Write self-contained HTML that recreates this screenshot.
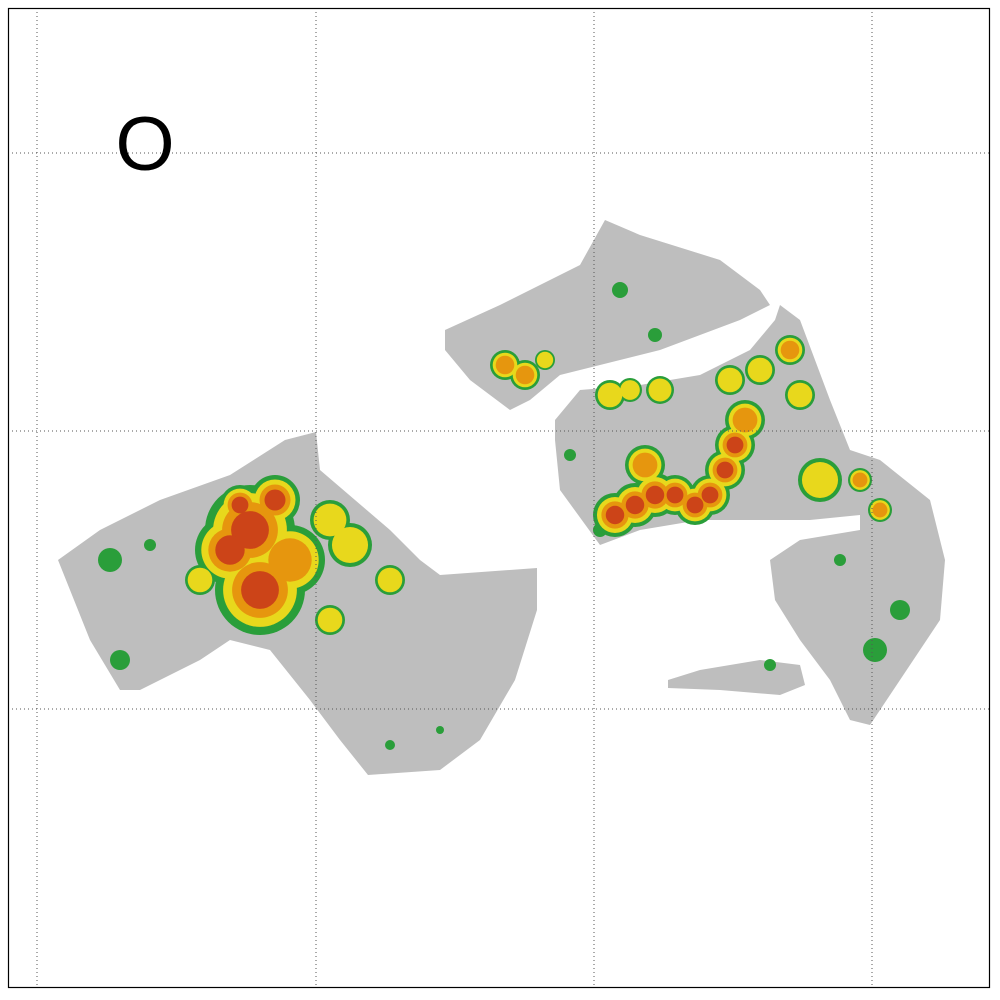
<!DOCTYPE html>
<html><head><meta charset="utf-8"><style>
html,body{margin:0;padding:0;background:#fff;width:1000px;height:1000px;overflow:hidden}
svg{display:block}
</style></head><body>
<svg id="chart" width="1000" height="1000" xmlns="http://www.w3.org/2000/svg">
<rect x="8" y="8" width="982" height="980" fill="#fff"/>
<g id="gray"></g>
<g id="blobs"></g>
<g id="grid"></g>
<rect x="8.5" y="8.5" width="981" height="979" fill="none" stroke="#000" stroke-width="1.2"/>
<text x="145" y="170" font-family="Liberation Sans, sans-serif" font-size="76" text-anchor="middle">O</text>
</svg>
<script>
// axis: data units are hundreds of pixels
const gridX = [0.37, 3.16, 5.94, 8.72];
const gridY = [1.53, 4.31, 7.09];
const regionLeft = [[0.58,5.6],[1.0,5.3],[1.6,5.0],[2.3,4.75],[2.85,4.4],[3.16,4.32],[3.2,4.7],[3.55,5.0],[3.9,5.3],[4.2,5.6],[4.4,5.75],[5.37,5.68],[5.37,6.1],[5.15,6.8],[4.8,7.4],[4.4,7.7],[3.68,7.75],[3.4,7.4],[3.1,7.0],[2.7,6.5],[2.3,6.4],[2.0,6.6],[1.4,6.9],[1.2,6.9],[0.9,6.4],[0.7,5.9]];
const regionUpper = [[4.45,3.3],[5.0,3.05],[5.8,2.65],[6.05,2.2],[6.4,2.35],[7.2,2.6],[7.6,2.9],[7.7,3.05],[7.4,3.2],[7.0,3.35],[6.6,3.5],[6.0,3.65],[5.6,3.75],[5.3,4.0],[5.1,4.1],[4.7,3.8],[4.45,3.5]];
const regionRight = [[5.55,4.2],[5.8,3.9],[6.4,3.85],[7.0,3.75],[7.5,3.5],[7.75,3.2],[7.8,3.05],[8.0,3.2],[8.3,4.0],[8.5,4.5],[8.8,4.6],[9.3,5.0],[9.45,5.6],[9.4,6.2],[9.0,6.8],[8.7,7.25],[8.5,7.2],[8.3,6.8],[8.0,6.4],[7.75,6.0],[7.7,5.6],[8.0,5.4],[8.6,5.3],[8.6,5.15],[8.1,5.2],[7.6,5.2],[7.0,5.2],[6.4,5.3],[6.0,5.45],[5.6,4.9],[5.55,4.4]];
const regionSmall = [[6.68,6.8],[7.0,6.7],[7.6,6.6],[8.0,6.65],[8.05,6.85],[7.8,6.95],[7.2,6.9],[6.68,6.88]];
const blobX = [2.5,2.6,2.9,2.3,2.75,2.4,3.3,3.5,3.9,2.0,3.3,1.1,1.2,1.5,6.15,6.35,6.55,6.75,6.95,7.1,7.25,7.35,7.45,6.45,6.1,6.3,6.6,7.3,7.6,7.9,8.0,8.2,8.6,8.8,9.0,8.75,5.05,5.25,5.45,6.2,6.55,5.7,7.7,6.0,8.4,3.9,4.4];
const blobY = [5.3,5.9,5.6,5.5,5.0,5.05,5.2,5.45,5.8,5.8,6.2,5.6,6.6,5.45,5.15,5.05,4.95,4.95,5.05,4.95,4.7,4.45,4.2,4.65,3.95,3.9,3.9,3.8,3.7,3.5,3.95,4.8,4.8,5.1,6.1,6.5,3.65,3.75,3.6,2.9,3.35,4.55,6.65,5.3,5.6,7.45,7.3];
const blobR = [0.45,0.45,0.35,0.35,0.25,0.2,0.2,0.22,0.15,0.15,0.15,0.12,0.1,0.06,0.22,0.22,0.22,0.2,0.2,0.2,0.2,0.2,0.2,0.2,0.15,0.12,0.14,0.15,0.15,0.15,0.15,0.22,0.12,0.12,0.1,0.12,0.15,0.15,0.1,0.08,0.07,0.06,0.06,0.07,0.06,0.05,0.04];
const blobLevel = [4,4,3,4,4,4,2,2,2,2,2,1,1,1,4,4,4,4,4,4,4,4,3,3,2,2,2,2,2,3,2,2,3,3,1,1,3,3,2,1,1,1,1,1,1,1,1];
const sx = v => v*100, sy = v => v*100;
const NS='http://www.w3.org/2000/svg';
const gray=document.getElementById('gray');
[['region-left',regionLeft],['region-upper',regionUpper],['region-right',regionRight],['region-small',regionSmall]].forEach(([n,pts])=>{
  const p=document.createElementNS(NS,'polygon');
  p.setAttribute('points',pts.map(q=>sx(q[0])+','+sy(q[1])).join(' '));
  p.setAttribute('fill','#bebebe');
  
  
  gray.appendChild(p);
});
const bl=document.getElementById('blobs');
const layers=[[1,1.0,'#2a9e3a'],[2,0.82,'#e8d81c'],[3,0.62,'#e6960e'],[4,0.42,'#cc4418']];
layers.forEach(([lv,f,c])=>{
  blobX.forEach((x,i)=>{
    if(blobLevel[i]<lv) return;
    const e=document.createElementNS(NS,'circle');
    e.setAttribute('cx',sx(x));e.setAttribute('cy',sy(blobY[i]));
    e.setAttribute('r',sx(blobR[i])*f);e.setAttribute('fill',c);
    
    
    bl.appendChild(e);
  });
});
const g=document.getElementById('grid');
gridX.forEach(v=>{const l=document.createElementNS(NS,'line');
  l.setAttribute('x1',sx(v));l.setAttribute('x2',sx(v));l.setAttribute('y1',8);l.setAttribute('y2',988);
  l.setAttribute('stroke','#555');l.setAttribute('stroke-dasharray','1,3');
  
  
  g.appendChild(l);});
gridY.forEach(v=>{const l=document.createElementNS(NS,'line');
  l.setAttribute('y1',sy(v));l.setAttribute('y2',sy(v));l.setAttribute('x1',8);l.setAttribute('x2',990);
  l.setAttribute('stroke','#555');l.setAttribute('stroke-dasharray','1,3');
  
  
  g.appendChild(l);});
</script>
</body></html>
